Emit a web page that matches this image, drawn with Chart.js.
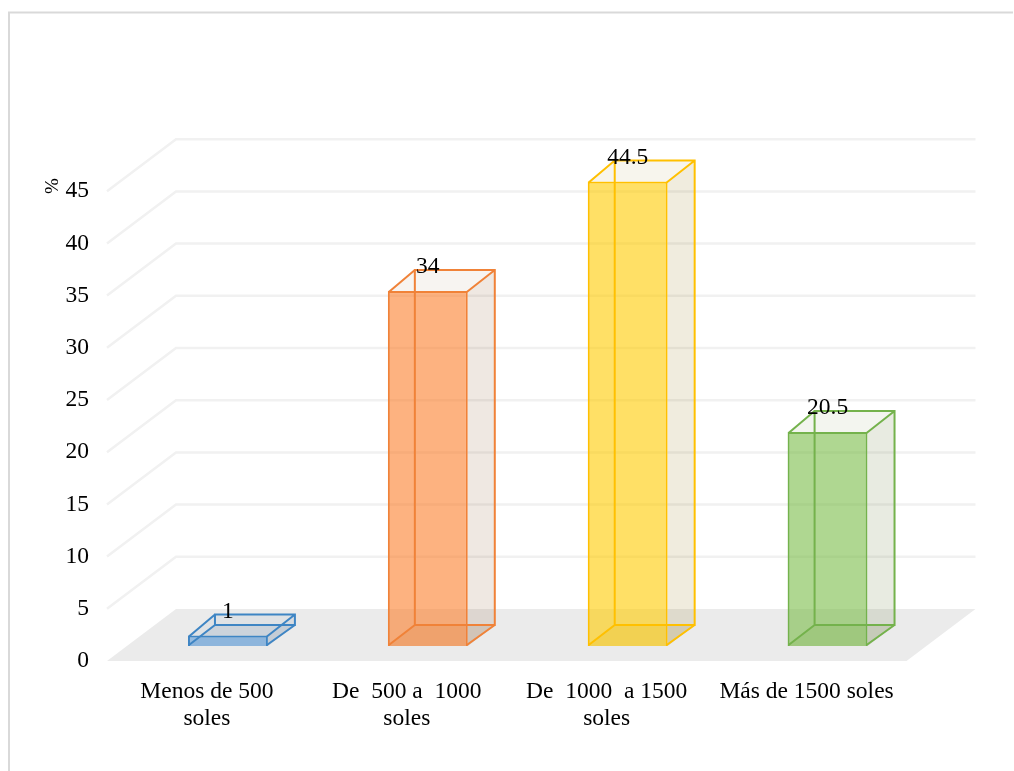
<!DOCTYPE html>
<html>
<head>
<meta charset="utf-8">
<style>html,body{margin:0;padding:0;background:#fff}canvas{display:block}</style>
<script src="https://cdn.jsdelivr.net/npm/chart.js@4"></script>
</head>
<body>
<canvas id="c" width="1014" height="771"></canvas>
<script>
const categories = [['Menos de 500','soles'],['De  500 a  1000','soles'],['De  1000  a 1500','soles'],['Más de 1500 soles']];
const values = [1, 34, 44.5, 20.5];
const valueLabels = ['1','34','44.5','20.5'];
const axisTitle = '%';
const frontFill = ['rgba(92,155,217,.6)','rgba(252,127,43,.6)','rgba(255,203,0,.6)','rgba(122,188,72,.6)'];
const edgeColor = ['#3E85C4','#F08238','#FFC000','#74B24C'];
const sideFill = ['rgba(70,110,150,.12)','rgba(125,63,13,.12)','rgba(140,109,0,.13)','rgba(102,122,55,.15)'];
const topFill = ['rgba(70,110,150,.07)','rgba(125,63,13,.06)','rgba(140,109,0,.07)','rgba(102,122,55,.08)'];

const FONT = '"Liberation Serif","Times New Roman",serif';
const FLOOR = '#EBEBEB', GRID = '#F1F1F1';
const WALL = {dx: 69, dy: -52};      // floor depth, front edge to back wall
const BAR_SHIFT = {dx: 21, dy: -15}; // bar front face relative to front edge of the floor
const BAR_DEPTH = {dx: 27, dy: -21};

function poly(ctx, pts, fill, stroke, lw){
  ctx.beginPath();
  pts.forEach((p,i)=> i ? ctx.lineTo(p[0],p[1]) : ctx.moveTo(p[0],p[1]));
  ctx.closePath();
  if(fill){ctx.fillStyle=fill;ctx.fill();}
  if(stroke){ctx.strokeStyle=stroke;ctx.lineWidth=lw;ctx.lineJoin='miter';ctx.stroke();}
}
function boxOf(el){
  const w = el.width;
  return {
    l: el.x - w/2 + BAR_SHIFT.dx, r: el.x + w/2 + BAR_SHIFT.dx,
    t: el.y + BAR_SHIFT.dy, b: el.base + BAR_SHIFT.dy
  };
}
const bars3d = {
  id: 'bars3d',
  beforeDatasetsDraw(chart){
    const {ctx, chartArea:a, scales:{y}} = chart;
    ctx.save();
    // frame of the picture
    ctx.strokeStyle = '#D9D9D9'; ctx.lineWidth = 2;
    ctx.beginPath(); ctx.moveTo(9,771); ctx.lineTo(9,12.5); ctx.lineTo(1013,12.5); ctx.stroke();
    // grid on the side wall and back wall
    ctx.strokeStyle = GRID; ctx.lineWidth = 2.5;
    y.ticks.forEach(t=>{
      if(t.value===0) return;
      const p = y.getPixelForValue(t.value);
      ctx.beginPath(); ctx.moveTo(a.left,p); ctx.lineTo(a.left+WALL.dx,p+WALL.dy); ctx.lineTo(a.right+WALL.dx,p+WALL.dy); ctx.stroke();
    });
    // floor
    const z = y.getPixelForValue(0);
    poly(ctx,[[a.left,z],[a.left+WALL.dx,z+WALL.dy],[a.right+WALL.dx,z+WALL.dy],[a.right,z]],FLOOR);
    // side and top faces
    chart.getDatasetMeta(0).data.forEach((el,i)=>{
      const {l,r,t,b} = boxOf(el), D = BAR_DEPTH;
      poly(ctx,[[r,t],[r+D.dx,t+D.dy],[r+D.dx,b+D.dy],[r,b]],sideFill[i]);
      poly(ctx,[[l,t],[l+D.dx,t+D.dy],[r+D.dx,t+D.dy],[r,t]],topFill[i]);
      poly(ctx,[[l,b],[l+D.dx,b+D.dy],[r+D.dx,b+D.dy],[r,b]],sideFill[i]);
    });
    ctx.restore();
  },
  beforeDatasetDraw(chart){
    chart.ctx.save();
    chart.ctx.translate(BAR_SHIFT.dx, BAR_SHIFT.dy);
  },
  afterDatasetDraw(chart){ chart.ctx.restore(); },
  afterDatasetsDraw(chart){
    const {ctx} = chart;
    ctx.save();
    chart.getDatasetMeta(0).data.forEach((el,i)=>{
      const {l,r,t,b} = boxOf(el), D = BAR_DEPTH, c = edgeColor[i];
      ctx.strokeStyle = c; ctx.lineWidth = 2; ctx.lineJoin='miter';
      ctx.beginPath();
      // back rectangle
      ctx.rect(l+D.dx,t+D.dy,r-l,b-t);
      // receding edges
      ctx.moveTo(l+1,t+1); ctx.lineTo(l+D.dx,t+D.dy);
      ctx.moveTo(r-1,t+1); ctx.lineTo(r+D.dx,t+D.dy);
      ctx.moveTo(l+1,b-1); ctx.lineTo(l+D.dx,b+D.dy);
      ctx.moveTo(r-1,b-1); ctx.lineTo(r+D.dx,b+D.dy);
      ctx.stroke();
      // value label
      ctx.fillStyle = '#000';
      ctx.font = '23.5px '+FONT;
      ctx.textAlign='center'; ctx.textBaseline='middle';
      ctx.fillText(valueLabels[i], (l+r)/2, t-24);
    });
    // axis title
    ctx.translate(53,186); ctx.rotate(-Math.PI/2);
    ctx.fillStyle='#000'; ctx.font='19px '+FONT;
    ctx.textAlign='center'; ctx.textBaseline='middle';
    ctx.fillText(axisTitle,0,0);
    ctx.restore();
  }
};

new Chart(document.getElementById('c'),{
  type:'bar',
  data:{labels:categories,datasets:[{
    data:values,
    backgroundColor:frontFill,
    borderColor:edgeColor,
    borderWidth:2,
    barPercentage:0.4,
    categoryPercentage:1,
    clip:false
  }]},
  plugins:[bars3d],
  options:{
    responsive:false,
    animation:false,
    layout:{padding:{top:139,right:107.5,left:0,bottom:0}},
    plugins:{legend:{display:false},tooltip:{enabled:false},title:{display:false}},
    scales:{
      x:{
        type:'category',
        grid:{display:false,drawTicks:false},
        border:{display:false},
        afterFit(s){s.height=110;},
        ticks:{maxRotation:0,minRotation:0,autoSkip:false,padding:17,color:'#000',
          font:{family:FONT,size:23.5,lineHeight:1.15}}
      },
      y:{
        min:0,max:50,
        grid:{display:false,drawTicks:false},
        border:{display:false},
        afterFit(s){s.width=107;},
        afterBuildTicks(s){s.ticks=s.ticks.filter(t=>t.value<=45);},
        ticks:{stepSize:5,padding:18,color:'#000',font:{family:FONT,size:23.5}}
      }
    }
  }
});
</script>
</body>
</html>
